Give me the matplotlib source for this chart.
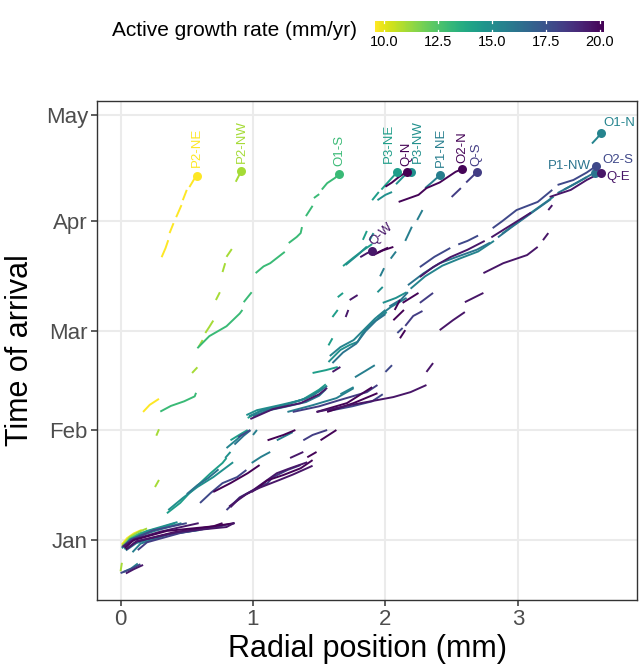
import numpy as np
import matplotlib.pyplot as plt
from matplotlib.colors import Normalize
from matplotlib.cm import ScalarMappable

plt.rcParams['font.family'] = ['Liberation Sans', 'DejaVu Sans']

# y is day of year (0 = 1 Jan), x is radial position in mm
month_days = [0, 31, 59, 90, 120]
month_labels = ['Jan', 'Feb', 'Mar', 'Apr', 'May']
cbar_ticks = [10, 12.5, 15, 17.5, 20]
rate_min, rate_max = 9.58, 20.19

samples = ['P2-NE', 'P2-NW', 'O1-S', 'P3-NE', 'P3-NW', 'P1-NE', 'O1-N',
           'P1-NW', 'O2-S', 'Q-S', 'Q-W', 'O2-N', 'Q-N', 'Q-E']
rates = [9.6, 11.0, 13.0, 14.3, 14.9, 15.7, 15.4,
         16.1, 17.9, 18.3, 19.5, 20.1, 20.19, 19.6]

# each track: list of growth segments, each a list of (mm, day)
P2_NE = [
    [(0.01, -1.2), (0.05, 0.6), (0.1, 1.9), (0.16, 2.9)],
    [(0.17, 36.2), (0.22, 38.2), (0.29, 39.9)],
    [(0.31, 79.9), (0.34, 82.5), (0.36, 84.7)],
    [(0.37, 86.7), (0.40, 89.5)],
    [(0.42, 91.2), (0.46, 94.6)],
    [(0.47, 96.0), (0.50, 98.9)],
    [(0.52, 99.7), (0.56, 102.2), (0.58, 102.9)],
]
P2_NW = [
    [(0.0, -8.8), (0.01, -6.4)],
    [(0.01, -1.6), (0.07, 0.9), (0.14, 2.4), (0.2, 3.3)],
    [(0.26, 15.0), (0.29, 17.0)],
    [(0.27, 29.5), (0.29, 31.3)],
    [(0.54, 47.2), (0.58, 48.8)],
    [(0.59, 54.6), (0.62, 56.5)],
    [(0.64, 58.5), (0.67, 60.2), (0.7, 62.0)],
    [(0.72, 67.8), (0.75, 70.0)],
    [(0.77, 75.7), (0.79, 78.2)],
    [(0.8, 80.0), (0.84, 82.2)],
    [(0.87, 101.2), (0.9, 103.4), (0.91, 104.2)],
]
O1_S = [
    [(0.02, -2.0), (0.07, 0.4), (0.15, 2.0), (0.26, 3.1)],
    [(0.3, 36.3), (0.38, 37.9), (0.48, 39.2), (0.56, 40.6), (0.57, 41.6)],
    [(0.58, 54.2), (0.67, 57.6), (0.8, 60.4), (0.9, 64.0), (0.92, 65.0)],
    [(0.93, 67.2), (0.99, 70.0)],
    [(1.02, 75.4), (1.08, 77.3), (1.13, 78.2), (1.24, 81.4)],
    [(1.27, 83.9), (1.33, 85.6), (1.36, 86.7), (1.37, 88.4)],
    [(1.4, 91.5), (1.45, 94.4)],
    [(1.46, 96.6), (1.5, 97.7)],
    [(1.52, 99.0), (1.56, 100.8), (1.62, 102.3), (1.65, 103.4)],
]
P3_NE = [
    [(0.03, -2.6), (0.08, -0.3), (0.2, 2.2), (0.41, 4.8)],
    [(0.35, 7.6), (0.45, 10.5), (0.52, 13.3), (0.6, 16.1), (0.68, 18.9), (0.77, 21.8), (0.8, 23.2)],
    [(0.83, 28.2), (0.9, 29.8), (0.96, 31.1)],
    [(0.96, 34.5), (1.05, 36.4), (1.22, 37.9), (1.38, 39.8), (1.5, 42.5), (1.55, 44.0)],
    [(1.45, 47.2), (1.55, 48.0), (1.64, 48.9)],
    [(1.57, 55.0), (1.6, 57.0)],
    [(1.6, 63.0), (1.64, 65.0)],
    [(1.64, 68.6), (1.68, 69.8)],
    [(1.68, 77.4), (1.76, 79.8), (1.83, 81.8), (1.9, 83.6)],
    [(1.83, 84.8), (1.86, 87.3)],
    [(1.9, 96.0), (1.95, 98.3)],
    [(1.97, 99.0), (2.03, 101.5), (2.09, 104.0)],
]
P3_NW = [
    [(0.01, -2.3), (0.07, 0.0), (0.2, 2.6), (0.43, 5.1)],
    [(0.36, 8.5), (0.47, 11.9), (0.58, 15.0), (0.7, 17.8), (0.8, 20.6), (0.85, 22.0)],
    [(0.79, 23.2), (0.83, 24.9)],
    [(0.95, 35.3), (1.03, 36.7), (1.2, 38.1), (1.36, 39.5), (1.46, 41.0), (1.53, 43.2)],
    [(1.57, 50.3), (1.66, 53.7), (1.73, 55.1), (1.79, 56.0), (1.83, 58.5), (1.88, 60.7),
     (1.96, 63.0), (2.01, 64.4)],
    [(1.98, 67.0), (2.08, 68.4), (2.16, 70.0)],
    [(1.94, 70.0), (1.98, 71.5)],
    [(1.7, 77.7), (1.79, 80.5), (1.86, 82.9)],
    [(1.88, 84.7), (1.91, 86.7)],
    [(1.94, 96.0), (2.0, 97.5), (2.05, 98.3)],
    [(2.08, 100.5), (2.14, 102.8), (2.19, 104.0)],
]
P1_NE = [
    [(0.09, -3.4), (0.15, -1.0), (0.35, 1.5), (0.6, 3.0), (0.77, 3.9)],
    [(0.99, 21.8), (1.06, 23.5), (1.13, 24.9)],
    [(1.0, 29.7), (1.03, 31.1)],
    [(1.18, 28.2), (1.3, 30.5)],
    [(1.26, 36.2), (1.45, 38.1), (1.63, 40.1), (1.76, 42.9)],
    [(1.77, 46.0), (1.85, 47.8), (1.92, 49.4)],
    [(1.94, 63.0), (2.04, 65.8), (2.16, 68.4)],
    [(1.96, 74.5), (1.99, 76.8)],
    [(2.04, 79.5), (2.08, 81.5)],
    [(2.15, 84.5), (2.2, 88.5)],
    [(2.24, 90.4), (2.28, 93.2)],
    [(2.3, 99.4), (2.35, 101.0), (2.41, 103.0)],
]
O1_N = [
    [(0.02, -9.0), (0.08, -8.0), (0.13, -6.6)],
    [(0.02, -1.8), (0.08, 0.3), (0.25, 2.5), (0.46, 4.8)],
    [(0.8, 26.0), (0.88, 28.5), (0.92, 30.0)],
    [(0.97, 35.0), (1.08, 36.8), (1.25, 38.3), (1.4, 40.0), (1.5, 42.0), (1.56, 43.6)],
    [(1.66, 41.2), (1.76, 43.2)],
    [(1.58, 52.0), (1.66, 54.5), (1.76, 56.5), (1.84, 59.5), (1.92, 62.5), (2.0, 65.0)],
    [(2.19, 71.0), (2.3, 74.5), (2.43, 77.5), (2.56, 79.5), (2.7, 81.5), (2.82, 84.5)],
    [(2.88, 86.5), (2.97, 89.0), (3.12, 93.0), (3.27, 97.0)],
    [(3.35, 99.0), (3.45, 101.0), (3.52, 102.5)],
    [(3.56, 112.0), (3.6, 113.6), (3.63, 115.0)],
]
P1_NW = [
    [(0.04, -2.9), (0.12, -0.8), (0.35, 1.6), (0.59, 2.8)],
    [(0.5, 13.0), (0.58, 15.5), (0.66, 17.5), (0.74, 20.0)],
    [(0.86, 27.0), (0.93, 29.5), (0.98, 31.0)],
    [(1.0, 35.0), (1.1, 36.5), (1.25, 37.7), (1.4, 39.0), (1.5, 40.8), (1.55, 42.6)],
    [(1.6, 50.0), (1.68, 53.0), (1.78, 55.5), (1.85, 59.0), (1.93, 62.0), (2.0, 63.8)],
    [(2.03, 66.0), (2.12, 68.0), (2.17, 70.0)],
    [(2.17, 72.0), (2.29, 75.4), (2.41, 78.2), (2.54, 80.0), (2.69, 82.0), (2.79, 84.0)],
    [(2.85, 85.5), (2.95, 88.3), (3.1, 92.3), (3.25, 96.3)],
    [(3.3, 98.0), (3.4, 100.0), (3.52, 102.5), (3.58, 103.8)],
]
O2_S = [
    [(0.0, -9.3), (0.07, -8.3), (0.15, -6.8)],
    [(0.01, -2.0), (0.08, 0.2), (0.25, 2.8), (0.5, 4.8)],
    [(0.6, 10.5), (0.68, 13.3), (0.77, 16.1), (0.88, 17.8), (0.95, 19.8)],
    [(0.89, 29.1), (0.98, 31.1)],
    [(1.56, 36.4), (1.75, 37.8), (1.9, 39.2), (1.98, 41.2)],
    [(2.0, 47.5), (2.05, 49.4)],
    [(2.09, 58.5), (2.13, 59.9)],
    [(2.26, 77.1), (2.37, 80.0), (2.49, 82.5)],
    [(2.55, 83.5), (2.62, 84.5), (2.7, 86.0)],
    [(2.81, 88.1), (2.88, 90.0), (2.99, 93.2), (3.15, 95.5), (3.26, 98.9)],
    [(3.3, 100.3), (3.42, 101.7), (3.52, 103.8), (3.59, 105.6)],
]
Q_S = [
    [(0.13, -2.8), (0.2, -0.6), (0.45, 2.0), (0.7, 3.6), (0.86, 4.8)],
    [(0.8, 8.5), (0.9, 12.1), (1.0, 14.1), (1.11, 16.1), (1.15, 17.8), (1.26, 19.8), (1.36, 21.2)],
    [(1.38, 28.2), (1.45, 29.7), (1.56, 31.1)],
    [(1.3, 36.2), (1.5, 37.8), (1.65, 39.5), (1.86, 41.8), (1.94, 43.8)],
    [(2.15, 60.5), (2.21, 63.3), (2.28, 64.7)],
    [(2.26, 67.0), (2.36, 69.8)],
    [(2.5, 96.9), (2.57, 99.4)],
    [(2.61, 101.0), (2.66, 102.8), (2.69, 104.0)],
]
Q_W = [
    [(0.04, -9.4), (0.1, -8.2), (0.17, -7.0)],
    [(0.02, -1.8), (0.1, 0.2), (0.3, 2.4), (0.59, 4.8)],
    [(0.83, 9.3), (0.9, 11.9), (1.0, 14.1), (1.18, 18.9), (1.28, 20.3), (1.41, 22.0)],
    [(1.28, 23.2), (1.38, 24.9)],
    [(0.98, 34.2), (1.15, 37.0), (1.36, 38.7), (1.5, 41.2), (1.56, 43.0)],
    [(1.6, 47.5), (1.66, 48.9)],
    [(1.7, 63.0), (1.72, 65.0)],
    [(1.73, 67.8), (1.79, 69.2)],
    [(1.81, 79.9), (1.86, 81.0), (1.9, 81.7)],
]
O2_N = [
    [(0.03, -2.2), (0.1, 0.0), (0.35, 2.6), (0.7, 3.9), (0.77, 4.8)],
    [(0.99, 13.6), (1.11, 16.9), (1.23, 18.4), (1.36, 20.3), (1.45, 22.6)],
    [(1.41, 23.4), (1.48, 24.9)],
    [(1.51, 28.2), (1.63, 31.1)],
    [(1.48, 36.2), (1.71, 38.7), (1.9, 43.2)],
    [(2.11, 57.0), (2.15, 59.3)],
    [(2.13, 67.0), (2.25, 69.8)],
    [(2.07, 65.0), (2.11, 67.8)],
    [(2.1, 95.5), (2.25, 97.5), (2.31, 99.4), (2.41, 101.0), (2.53, 104.0), (2.58, 104.8)],
]
Q_N = [
    [(0.04, -2.6), (0.12, -0.4), (0.4, 2.2), (0.86, 4.8)],
    [(0.7, 13.6), (0.83, 16.1), (0.96, 18.9), (1.05, 21.2)],
    [(1.11, 28.2), (1.23, 29.7), (1.32, 31.1)],
    [(1.56, 36.2), (1.76, 38.7), (1.94, 41.5)],
    [(2.06, 62.1), (2.14, 65.0)],
    [(1.91, 80.5), (1.98, 81.8), (2.06, 82.8)],
    [(1.94, 81.2), (2.02, 82.6)],
    [(2.0, 99.8), (2.05, 101.0), (2.1, 102.5), (2.16, 104.0)],
]
Q_E = [
    [(0.05, -2.4), (0.12, -0.3), (0.45, 2.4), (0.8, 3.7), (0.86, 4.9)],
    [(0.82, 9.5), (0.95, 13.0), (1.05, 14.8), (1.2, 17.0), (1.3, 18.5), (1.45, 21.0)],
    [(1.48, 36.2), (1.73, 38.1), (2.06, 40.4), (2.19, 41.8), (2.31, 43.8)],
    [(2.31, 47.5), (2.36, 50.0)],
    [(2.41, 59.3), (2.51, 62.1), (2.6, 64.4)],
    [(2.6, 67.2), (2.74, 69.8)],
    [(2.26, 74.3), (2.36, 77.1), (2.49, 79.9), (2.62, 82.0), (2.75, 84.5)],
    [(2.8, 85.5), (2.95, 89.0), (3.1, 92.5)],
    [(2.74, 75.4), (2.89, 78.2), (3.07, 80.5), (3.15, 82.8)],
    [(3.19, 84.7), (3.23, 86.7)],
    [(3.23, 93.2), (3.26, 94.6)],
    [(3.24, 96.9), (3.4, 98.9), (3.52, 101.7), (3.63, 103.8)],
]

tracks = [P2_NE, P2_NW, O1_S, P3_NE, P3_NW, P1_NE, O1_N,
          P1_NW, O2_S, Q_S, Q_W, O2_N, Q_N, Q_E]

# label placement: offset in points, rotation, alignment
label_style = {
    'P2-NE': ((0, 6), 90, 'center', 'bottom'),
    'P2-NW': ((0.5, 6), 90, 'center', 'bottom'),
    'O1-S': ((0, 6), 90, 'center', 'bottom'),
    'P3-NE': ((-6, 6), 90, 'center', 'bottom'),
    'Q-N': ((0, 4), 90, 'center', 'bottom'),
    'P3-NW': ((5.5, 6), 90, 'center', 'bottom'),
    'P1-NE': ((0.5, 6), 90, 'center', 'bottom'),
    'O2-N': ((0, 4.5), 90, 'center', 'bottom'),
    'Q-S': ((0, 4), 90, 'center', 'bottom'),
    'Q-W': ((2, 2), 43, 'left', 'bottom'),
    'O1-N': ((1.5, 7), 0, 'left', 'center'),
    'P1-NW': ((-2.5, 5), 0, 'right', 'center'),
    'O2-S': ((4.5, 4.5), 0, 'left', 'center'),
    'Q-E': ((4, -3), 0, 'left', 'center'),
}

cmap = plt.get_cmap('viridis_r')
norm = Normalize(vmin=rate_min, vmax=rate_max)

fig = plt.figure(figsize=(6.39, 6.66), dpi=100)
ax = fig.add_axes([97 / 639, 1 - 600 / 666, 540 / 639, 499 / 666])

for name, rate, segs in zip(samples, rates, tracks):
    col = cmap(norm(rate))
    for seg in segs:
        xs, ds = zip(*seg)
        ax.plot(xs, ds, color=col, lw=1.4, solid_capstyle='butt', zorder=2)

for name, rate, segs in zip(samples, rates, tracks):
    col = cmap(norm(rate))
    xe, de = segs[-1][-1]
    ax.scatter([xe], [de], s=42, color=col, zorder=4, linewidths=0)
    off, rot, ha, va = label_style[name]
    ax.annotate(name, (xe, de), xytext=off, textcoords='offset points',
                rotation=rot, ha=ha, va=va, color=col, fontsize=9.5,
                rotation_mode='anchor' if rot not in (0, 90) else 'default', zorder=5)

ax.set_xlim(-0.178, 3.90)
ax.set_ylim(-16.9, 124.0)
ax.set_xticks([0, 1, 2, 3])
ax.set_yticks(month_days, month_labels)
ax.grid(color='#ebebeb', lw=1.5)
ax.set_axisbelow(True)
for sp in ax.spines.values():
    sp.set_color('#333333')
    sp.set_linewidth(1.0)
ax.tick_params(color='#333333', labelcolor='#4d4d4d', labelsize=16, length=4, width=1.1, pad=2.5)
ax.set_xlabel('Radial position (mm)', fontsize=22, labelpad=3)
ax.set_ylabel('Time of arrival', fontsize=22, labelpad=8)

# colour bar legend on top
cax = fig.add_axes([375 / 639, 1 - 32 / 666, 229 / 639, 11 / 666])
cb = fig.colorbar(ScalarMappable(norm=norm, cmap=cmap), cax=cax,
                  orientation='horizontal', ticks=cbar_ticks)
cb.outline.set_visible(False)
cax.set_xticklabels(['%.1f' % t for t in cbar_ticks])
cax.tick_params(length=0, labelsize=10.5, pad=2)
for t in cbar_ticks:
    cax.axvline(t, 0, 0.2, color='white', lw=0.9)
    cax.axvline(t, 0.8, 1, color='white', lw=0.9)
fig.text(357 / 639, 1 - 30 / 666, 'Active growth rate (mm/yr)', ha='right', va='center', fontsize=15)

fig.savefig('out.png', dpi=100)
